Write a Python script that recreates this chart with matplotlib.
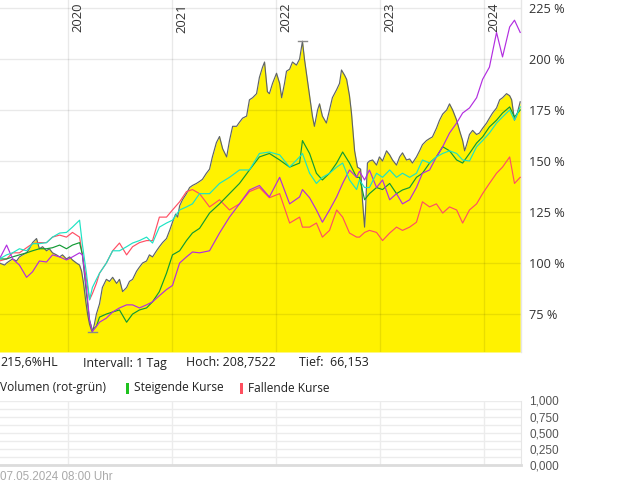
import matplotlib
matplotlib.use("Agg")
import matplotlib.pyplot as plt
import matplotlib.dates as mdates
from matplotlib.patches import Rectangle
import pandas as pd

# ---------------- data ----------------
start_date = "2019-05-07"

# grey (filled) series: days after start_date and value in %
gray_days = [
    0, 18, 25, 35, 46, 60, 70, 81, 95, 105, 116, 130, 140, 151, 165, 175, 186, 200,
    211, 221, 235, 246, 256, 270, 281, 288, 295, 302, 309, 316, 323, 326, 333, 340,
    351, 361, 375, 386, 397, 411, 421, 432, 446, 456, 467, 481, 491, 502, 516, 526,
    537, 551, 561, 572, 586, 597, 607, 618, 625, 632, 642, 656, 667, 677, 691, 702,
    712, 726, 737, 747, 761, 772, 783, 797, 807, 818, 832, 842, 853, 867, 877, 888,
    902, 912, 923, 930, 940, 947, 958, 972, 983, 990, 1000, 1007, 1018, 1028, 1042,
    1053, 1063, 1070, 1077, 1088, 1098, 1105, 1116, 1123, 1133, 1147, 1158, 1168,
    1183, 1193, 1200, 1211, 1218, 1228, 1235, 1246, 1256, 1267, 1274, 1281, 1284,
    1291, 1298, 1309, 1323, 1333, 1344, 1358, 1369, 1379, 1393, 1404, 1414, 1428,
    1439, 1449, 1463, 1474, 1484, 1498, 1509, 1519, 1533, 1544, 1555, 1569, 1579,
    1590, 1604, 1614, 1625, 1632, 1639, 1649, 1660, 1674, 1684, 1695, 1709, 1719,
    1730, 1744, 1755, 1765, 1779, 1790, 1797, 1807, 1814, 1827,
]
gray_vals = [
    100, 99, 100, 101, 102, 101, 103, 104, 105, 107, 110, 112, 107, 108, 106, 107, 105, 104,
    103, 104, 102, 103, 101.5, 100, 99, 96, 90, 82, 75, 70, 67, 66.2, 70, 75,
    80, 88, 92, 91, 93, 90, 92, 86, 88, 91, 92, 96, 98, 100, 101, 104,
    103, 106, 108, 110, 112, 116, 120, 124, 122.5, 128, 131, 134, 137, 138, 139, 140,
    141, 144, 146, 152, 159, 162, 156, 152, 160, 167, 167, 169, 171, 172, 180, 181,
    183, 191, 196, 198.5, 184, 183, 188, 193, 188, 181, 188, 194, 195, 198.5, 197,
    200, 208.7, 200, 193, 182, 172, 167, 175, 178, 172, 168.6, 175, 181,
    185, 188, 194.6, 192, 190, 182, 173.5, 155, 147, 146, 130, 117.6, 125,
    149, 150, 150.5, 148, 152, 150, 155, 153, 150.5, 148, 152, 154, 150.5,
    151, 149, 152, 155, 158, 160, 161, 161.8, 166, 170, 173, 175, 178,
    175, 170, 165, 160, 155, 158, 163, 165, 163, 163.7, 166, 168.6, 171,
    173.5, 176, 180, 181, 183, 182, 180, 170, 172, 179,
]

# other four series share one date list
dates = [
    "2019-05-07", "2019-06-01", "2019-06-22", "2019-07-16", "2019-08-10", "2019-08-31",
    "2019-09-24", "2019-10-19", "2019-11-09", "2019-12-04", "2019-12-28", "2020-01-18",
    "2020-02-12", "2020-02-22", "2020-03-07", "2020-03-18", "2020-03-28", "2020-04-11",
    "2020-04-22", "2020-05-16", "2020-06-07", "2020-07-01", "2020-07-26", "2020-08-16",
    "2020-09-09", "2020-10-04", "2020-10-25", "2020-11-18", "2020-12-13", "2021-01-03",
    "2021-01-28", "2021-02-21", "2021-03-14", "2021-04-08", "2021-05-13", "2021-06-17",
    "2021-07-22", "2021-08-26", "2021-09-30", "2021-11-04", "2021-12-09", "2022-01-14",
    "2022-02-18", "2022-03-25", "2022-04-04", "2022-04-29", "2022-05-23", "2022-06-13",
    "2022-07-08", "2022-08-02", "2022-08-23", "2022-09-16", "2022-10-11", "2022-10-21",
    "2022-11-08", "2022-11-25", "2022-12-20", "2023-01-10", "2023-02-04", "2023-02-28",
    "2023-03-21", "2023-04-15", "2023-05-09", "2023-05-30", "2023-06-24", "2023-07-18",
    "2023-08-09", "2023-09-02", "2023-09-27", "2023-10-18", "2023-11-11", "2023-12-06",
    "2023-12-27", "2024-01-20", "2024-02-14", "2024-03-06", "2024-03-31", "2024-04-17",
    "2024-05-07",
]

green_vals = [
    102, 102, 103, 104, 105, 106, 107, 107, 107.5, 108.8, 107, 108.8,
    110, 104, 85, 72, 67, 69, 73.5, 75, 76, 77, 71, 75,
    77, 78, 81, 86, 95, 104, 106, 111, 114.7, 117, 124.5, 129,
    134, 139, 145.6, 152, 153.7, 150.5, 147, 149, 160, 153.7, 144, 140.7,
    144, 149, 154.4, 149, 142, 142, 131, 134, 137, 136, 139, 134,
    135.8, 137, 142, 144, 149, 152, 157, 155, 150.5, 149, 153.7, 158.8,
    161.8, 166.7, 170, 173.5, 176.5, 171.6, 175,
]

cyan_vals = [
    102, 104, 105, 107, 106, 109.5, 109.5, 110, 112.7, 114.7, 115, 117.6,
    121, 109, 95, 82, 88, 92, 95, 100, 106, 106, 108, 109.8,
    111, 112.7, 109.8, 117.6, 119.6, 121, 126, 127.5, 129, 134, 134, 139,
    142, 145.6, 145.6, 153.7, 154.4, 153, 147, 152, 153.7, 144, 139, 142,
    144, 147, 149, 140.7, 136, 140.7, 137, 137, 144, 142, 145.6, 142,
    144, 142, 144, 150.5, 149, 152, 153.7, 155, 153.7, 150.5, 150, 157,
    160, 163.7, 168.6, 171.6, 175, 170, 176.5,
]

red_vals = [
    101, 102, 105, 105, 107.5, 109.5, 110, 110, 112.7, 113.7, 112.7, 115,
    112.7, 104, 92, 82, 85, 90, 95, 100, 106, 109.8, 104, 108,
    110, 111, 111, 122.5, 122.5, 126, 130, 135, 136, 134, 127.5, 131,
    126, 129, 135, 137, 132, 134, 119.6, 122.5, 117.6, 117.6, 119.6, 112.7,
    116, 126, 122.5, 114.7, 112.7, 112.7, 115, 116, 115, 111, 114.7, 117.6,
    116, 117.6, 120, 130, 127.5, 129, 124.5, 127.5, 126, 119.6, 126, 129,
    134, 139, 144, 147, 152, 139, 142,
]

purple_vals = [
    102, 108.8, 102, 99, 93, 95.7, 101, 100.5, 104, 103, 101.5, 103,
    105, 104, 88, 72, 66.5, 69, 71, 73, 76, 78, 79.5, 79.5,
    78, 79.5, 81, 84, 87, 89, 100, 103, 105.4, 105, 106, 114.7,
    122.5, 129, 135.8, 138, 132.4, 142, 129, 132.4, 136, 132, 126, 120,
    126, 132.4, 139, 145.6, 142, 145, 140.7, 145.6, 137, 140.7, 131, 134,
    129, 131, 137, 144, 145.6, 152, 157, 163.7, 168.6, 173.5, 176, 181,
    190, 196, 213, 201, 215.7, 219, 213,
]

y_ticks = [75, 100, 125, 150, 175, 200, 225]
years = [2020, 2021, 2022, 2023, 2024]
vol_ticks = [0.0, 0.25, 0.5, 0.75, 1.0]

info_texts = ["215,6%HL", "Intervall: 1 Tag", "Hoch: 208,7522", "Tief:  66,153"]
legend_texts = ["Volumen (rot-grün)", "Steigende Kurse", "Fallende Kurse"]
footer = "07.05.2024 08:00 Uhr"

# ---------------- figure ----------------
W, H = 620, 483
fig = plt.figure(figsize=(W / 100, H / 100), dpi=100)
fig.patch.set_facecolor("white")
FONT = ["Open Sans", "DejaVu Sans"]
FONT2 = ["Liberation Sans", "DejaVu Sans"]
LW = 0.85


def fax(l, t, r, b):
    return fig.add_axes([l / W, 1 - b / H, (r - l) / W, (b - t) / H])


def fy(y):
    return 1 - y / H


x = pd.to_datetime(dates)
gx = pd.Timestamp(start_date) + pd.to_timedelta(gray_days, unit="D")
ymin, ymax = 56.4, 228.9
x0 = mdates.date2num(pd.Timestamp("2020-01-01")) - 237.2
x1 = mdates.date2num(pd.Timestamp("2024-01-01")) + 129.8

ax = fax(0, 0, 521, 352)
ax.set_facecolor("white")
ax.fill_between(gx, gray_vals, ymin, color="#fff200", lw=0, zorder=1)

gridc = (0, 0, 0, 0.085)
for v in y_ticks:
    ax.axhline(v, color=gridc, lw=1, zorder=2)
for yr in years:
    ax.axvline(pd.Timestamp(f"{yr}-01-01"), color=gridc, lw=1, zorder=2)

ax.plot(gx, gray_vals, color="#5f6468", lw=LW, zorder=3)
ax.plot(x, red_vals, color="#ff4f64", lw=LW, zorder=4)
ax.plot(x, green_vals, color="#119a33", lw=LW, zorder=5)
ax.plot(x, purple_vals, color="#b22ee0", lw=LW, zorder=6)
ax.plot(x, cyan_vals, color="#1de3c4", lw=LW, zorder=7)

# high / low markers
gs = pd.Series(gray_vals, index=gx)
hi_d, lo_d = gs.idxmax(), gs.idxmin()
half = pd.Timedelta(days=16)
ax.plot([hi_d - half, hi_d + half], [gs.max(), gs.max()], color="#8a8a8a", lw=1, zorder=8)
ax.plot([lo_d - half, lo_d + half], [gs.min(), gs.min()], color="#8a8a8a", lw=1, zorder=8)

ax.set_xlim(x0, x1)
ax.set_ylim(ymin, ymax)
ax.set_xticks([])
ax.yaxis.tick_right()
ax.set_yticks(y_ticks)
ax.set_yticklabels([f"{v} %" for v in y_ticks], family=FONT)
ax.tick_params(axis="y", length=0, pad=6, labelsize=9.2, labelcolor="#333333")
for s in ["top", "left", "bottom"]:
    ax.spines[s].set_visible(False)
ax.spines["right"].set_color("#e6e6e6")
ax.spines["right"].set_linewidth(1)

for yr in years:
    ax.annotate(str(yr), xy=(mdates.date2num(pd.Timestamp(f"{yr}-01-01")), 1 - 3 / 352),
                xycoords=("data", "axes fraction"), xytext=(3.5, 0),
                textcoords="offset pixels", rotation=90, ha="left", va="top",
                fontsize=9.4, color="#333333", family=FONT)

# ---------------- info line ----------------
for t, px in zip(info_texts, [0, 83, 186, 299]):
    fig.text(px / W, fy(363), t, ha="left", va="center", fontsize=8.9,
             color="#222222", family=FONT)

# ---------------- legend line ----------------
fig.text(0, fy(388), legend_texts[0], ha="left", va="center", fontsize=8.6,
         color="#222222", family=FONT)
fig.patches.append(Rectangle((126 / W, fy(394)), 3 / W, 11 / H, transform=fig.transFigure,
                             color="#1fc21f", lw=0))
fig.text(134 / W, fy(388), legend_texts[1], ha="left", va="center", fontsize=8.6,
         color="#222222", family=FONT)
fig.patches.append(Rectangle((240 / W, fy(394)), 3 / W, 11 / H, transform=fig.transFigure,
                             color="#ff4f5f", lw=0))
fig.text(248 / W, fy(388), legend_texts[2], ha="left", va="center", fontsize=8.6,
         color="#222222", family=FONT)

# ---------------- volume panel ----------------
vx = fax(0, 400.5, 521, 465)
vx.set_xlim(x0, x1)
vx.set_ylim(0, 1)
for v in [i * 0.125 for i in range(1, 9)]:
    vx.axhline(v, color="#ececec", lw=1, zorder=1)
for yr in years:
    vx.axvline(pd.Timestamp(f"{yr}-01-01"), color="#ececec", lw=1, zorder=1)
vx.set_xticks([])
vx.yaxis.tick_right()
vx.set_yticks(vol_ticks)
vx.set_yticklabels([f"{v:.3f}".replace(".", ",") for v in vol_ticks], family=FONT2)
vx.tick_params(axis="y", length=0, pad=6, labelsize=8.5, labelcolor="#555555")
for s in ["top", "left"]:
    vx.spines[s].set_visible(False)
vx.spines["right"].set_color("#e6e6e6")
vx.spines["bottom"].set_color("#dcdcdc")
vx.spines["bottom"].set_linewidth(2)

fig.text(0, fy(477), footer, ha="left", va="center", fontsize=8.4,
         color="#aaaaaa", family=FONT2)

fig.savefig("out.png", dpi=100, facecolor="white")
